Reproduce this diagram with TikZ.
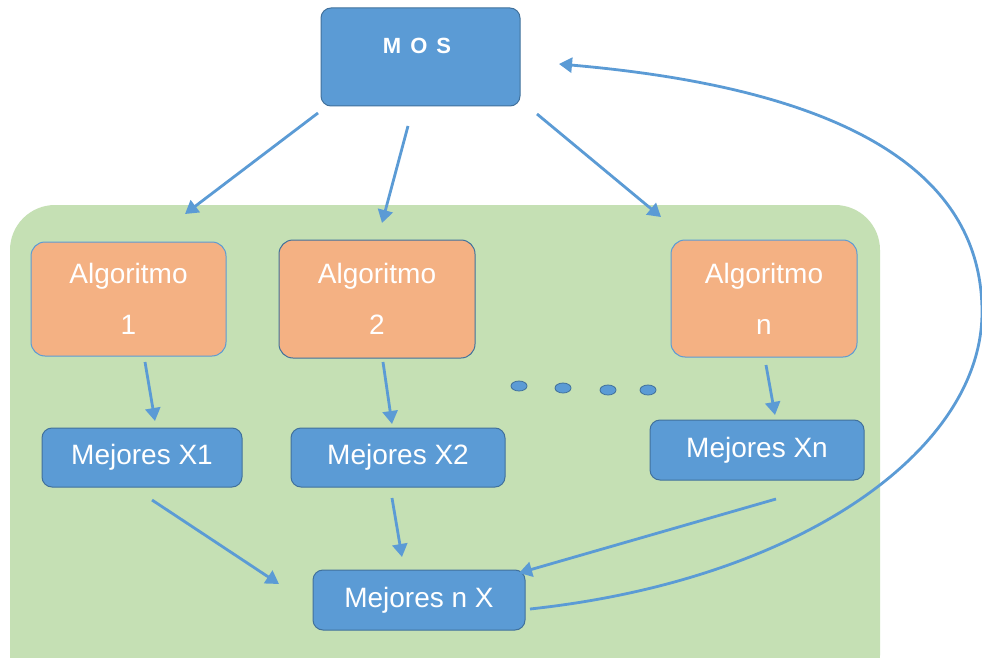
\documentclass[tikz,border=0pt]{standalone}
\usepackage{fontspec}
\setmainfont{Liberation Sans}
\usetikzlibrary{arrows.meta}
\definecolor{bfill}{HTML}{5B9BD5}
\definecolor{bdraw}{HTML}{41719C}
\definecolor{ofill}{HTML}{F4B183}
\definecolor{gfill}{HTML}{C5E0B4}
\begin{document}
\begin{tikzpicture}[x=1pt,y=-1pt,
  bluebox/.style={draw=bdraw,line width=1pt,fill=bfill,rounded corners=10pt,text=white,inner sep=0pt,
     font=\fontsize{28}{32}\selectfont},
  algbox/.style={draw=bfill,line width=1pt,fill=ofill,rounded corners=14pt,text=white,inner sep=0pt,align=center,
     font=\fontsize{28}{51}\selectfont},
  conn/.style={draw=bfill,line width=2.8pt,-{Triangle[length=13pt,width=15pt]}},
  dotst/.style={draw=bdraw,line width=0.8pt,fill=bfill}
]
\useasboundingbox (0,0) rectangle (982,658);
\fill[white] (0,0) rectangle (982,658);
% green background
\fill[gfill,rounded corners=45pt] (10,205) rectangle (880,700);
\fill[white] (0,658) rectangle (982,700);
% MOS
\node[bluebox,minimum width=199pt,minimum height=98pt] (mos) at (420.5,57) {};
\node[text=white,font=\fontsize{22}{24}\selectfont\bfseries,anchor=base] (mostxt) at (417,54) {M\hspace{9pt}O\hspace{9pt}S};
% algorithms
\node[algbox,minimum width=195pt,minimum height=114pt] (a1) at (128.5,299) {Algoritmo\\1};
\node[algbox,draw=bdraw,minimum width=196pt,minimum height=118pt] (a2) at (377,299) {Algoritmo\\2};
\node[algbox,minimum width=186pt,minimum height=117pt] (an) at (764,298.5) {Algoritmo\\n};
% mejores
\node[bluebox,minimum width=200pt,minimum height=59pt] (x1) at (142,457.5) {Mejores X1};
\node[bluebox,minimum width=214pt,minimum height=59pt] (x2) at (398,457.5) {Mejores X2};
\node[bluebox,minimum width=214pt,minimum height=60pt] (xn) at (757,450) {Mejores Xn};
\node[bluebox,minimum width=212pt,minimum height=60pt] (nx) at (419,600) {Mejores n X};
% dots
\draw[dotst] (519,386) ellipse (8pt and 5pt);
\draw[dotst] (563,388) ellipse (8pt and 5pt);
\draw[dotst] (608,390) ellipse (8pt and 5pt);
\draw[dotst] (648,390) ellipse (8pt and 5pt);
% coordinates for connector ends
\coordinate (m1) at (318,113);
\coordinate (m2) at (408,126);
\coordinate (m3) at (537,114);
\coordinate (t1) at (185,214);
\coordinate (t2) at (382,223);
\coordinate (t3) at (661,217);
\coordinate (a1s) at (145,362);
\coordinate (a1e) at (155,421);
\coordinate (a2s) at (383,362);
\coordinate (a2e) at (392,424);
\coordinate (ans) at (766,365);
\coordinate (ane) at (775,415);
\coordinate (x1s) at (152,500);
\coordinate (x1e) at (279,584);
\coordinate (x2s) at (392,498);
\coordinate (x2e) at (402,557);
\coordinate (xns) at (776,499);
\coordinate (xne) at (519,573);
\coordinate (nxs) at (530,609);
\coordinate (rt) at (982,312);
\coordinate (mose) at (559,64);
\path[conn] (m1) -- (t1);
\path[conn] (m2) -- (t2);
\path[conn] (m3) -- (t3);
\path[conn] (a1s) -- (a1e);
\path[conn] (a2s) -- (a2e);
\path[conn] (ans) -- (ane);
\path[conn] (x1s) -- (x1e);
\path[conn] (x2s) -- (x2e);
\path[conn] (xns) -- (xne);
\path[conn] (nxs) .. controls (800,580) and (982,450) .. (rt) .. controls (982,150) and (800,85) .. (mose);
\end{tikzpicture}
\end{document}
